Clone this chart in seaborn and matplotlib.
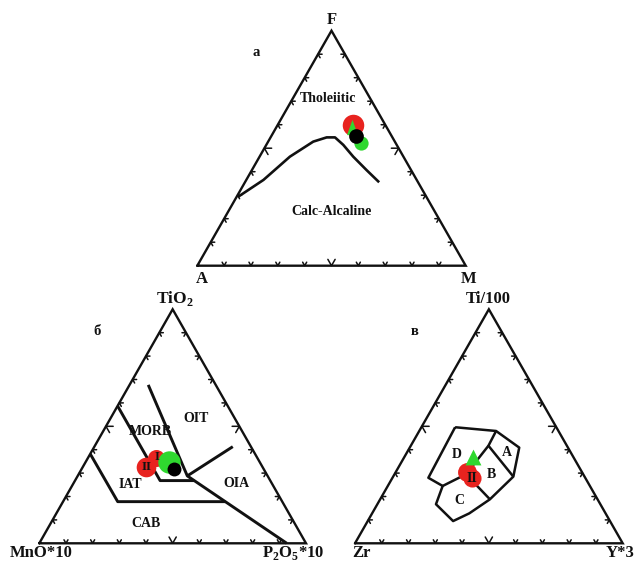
import numpy as np
import matplotlib
matplotlib.use('Agg')
import matplotlib.pyplot as plt
import seaborn as sns

H = np.sqrt(3) / 2

# ---- а: A-F-M diagram (fractions of F and M, A = rest) ----
afm_curve_F = [0.294, 0.365, 0.464, 0.528, 0.546, 0.546, 0.514, 0.464, 0.407, 0.355]
afm_curve_M = [0.006, 0.064, 0.113, 0.168, 0.209, 0.240, 0.287, 0.349, 0.427, 0.500]
afm_red_F, afm_red_M = [0.599], [0.282]
afm_tri_F, afm_tri_M = [0.590], [0.282]
afm_green_F, afm_green_M = [0.521], [0.348]
afm_black_F, afm_black_M = [0.553], [0.314]

# ---- б: TiO2 - MnO*10 - P2O5*10 (fractions of TiO2 and P2O5) ----
mnp_main_T = [0.677, 0.288, 0.0]
mnp_main_P = [0.070, 0.411, 0.928]
mnp_oia_T = [0.288, 0.413]
mnp_oia_P = [0.411, 0.519]
mnp_morb_T = [0.587, 0.268, 0.268]
mnp_morb_P = [0.0, 0.319, 0.447]
mnp_cab_T = [0.382, 0.178, 0.178]
mnp_cab_P = [0.0, 0.205, 0.608]
mnp_red1_T, mnp_red1_P = [0.363], [0.256]
mnp_red2_T, mnp_red2_P = [0.327], [0.236]
mnp_green_T, mnp_green_P = [0.349], [0.313]
mnp_black_T, mnp_black_P = [0.316], [0.347]

# ---- в: Ti/100 - Zr - Y*3 (fractions of Ti and Y) ----
tzy_outer_T = [0.496, 0.480, 0.409, 0.285, 0.188, 0.128, 0.095, 0.167, 0.245, 0.280, 0.496]
tzy_outer_Y = [0.126, 0.287, 0.409, 0.449, 0.410, 0.363, 0.319, 0.219, 0.205, 0.134, 0.126]
tzy_ab_T = [0.480, 0.417, 0.285]
tzy_ab_Y = [0.287, 0.290, 0.449]
tzy_cd_T = [0.245, 0.295, 0.188]
tzy_cd_Y = [0.205, 0.267, 0.410]
tzy_db_T = [0.417, 0.295]
tzy_db_Y = [0.290, 0.267]
tzy_red1_T, tzy_red1_Y = [0.306], [0.2665]
tzy_red2_T, tzy_red2_Y = [0.278], [0.297]
tzy_tri_T, tzy_tri_Y = [0.3675], [0.258]

RED = '#e8231f'
GREEN = '#2fd82f'
INK = '#111111'

sns.set_theme(style="white")
plt.rcParams['font.family'] = ['Liberation Serif', 'DejaVu Serif']
plt.rcParams['font.weight'] = 'bold'
plt.rcParams['mathtext.fontset'] = 'custom'
plt.rcParams['mathtext.rm'] = 'Liberation Serif:bold'
plt.rcParams['mathtext.bf'] = 'Liberation Serif:bold'


def cart(top, right):
    top = np.asarray(top, dtype=float)
    right = np.asarray(right, dtype=float)
    return right + top / 2, top * H


def make_axes(fig, left_px, bottom_px, width_px, height_px):
    W, Hf = 638, 563
    ax = fig.add_axes([left_px / W, (Hf - bottom_px) / Hf, width_px / W, height_px / Hf])
    ax.set_xlim(0, 1)
    ax.set_ylim(0, H)
    ax.axis('off')
    # frame
    ax.plot([0, 1, 0.5, 0], [0, 0, H, 0], color=INK, lw=1.7, clip_on=False,
            solid_joinstyle='miter')
    # chevron ticks pointing inward
    edges = [((0, 0), (1, 0), (np.cos(np.pi / 3), np.sin(np.pi / 3)),
              (np.cos(2 * np.pi / 3), np.sin(2 * np.pi / 3))),
             ((0, 0), (0.5, H), (1, 0), (0.5, -H)),
             ((1, 0), (0.5, H), (-1, 0), (-0.5, -H))]
    for start, end, d1, d2 in edges:
        for k in range(1, 10):
            f = k / 10
            px = start[0] + f * (end[0] - start[0])
            py = start[1] + f * (end[1] - start[1])
            L = 0.027 if k == 5 else 0.015
            ax.plot([px + L * d1[0], px, px + L * d2[0]],
                    [py + L * d1[1], py, py + L * d2[1]],
                    color=INK, lw=1.1, clip_on=False)
    return ax


def line(ax, top, right, lw=2.1):
    x, y = cart(top, right)
    ax.plot(x, y, color=INK, lw=lw, clip_on=False, solid_capstyle='butt')


def points(ax, top, right, color, s, marker='o', z=3):
    x, y = cart(top, right)
    sns.scatterplot(x=x, y=y, ax=ax, color=color, s=s, marker=marker,
                    linewidth=0, zorder=z, clip_on=False, legend=False)


fig = plt.figure(figsize=(6.38, 5.63), dpi=100)
fig.patch.set_facecolor('white')

vfs = 12     # vertex labels
rfs = 10     # region labels

# ---------------- а ----------------
ax = make_axes(fig, 197.3, 265.7, 268.4, 235)
line(ax, afm_curve_F, afm_curve_M, lw=1.9)
tri = [(0, 1), (-0.72, -1), (0.72, -1)]
points(ax, afm_red_F, afm_red_M, RED, 240, z=3)
points(ax, afm_tri_F, afm_tri_M, GREEN, 120, marker=tri, z=4)
points(ax, afm_green_F, afm_green_M, GREEN, 105, z=5)
points(ax, afm_black_F, afm_black_M, 'black', 112, z=6)
ax.text(0.5, 0.891, 'F', ha='center', va='baseline', fontsize=vfs, color=INK)
ax.text(0.016, -0.065, 'A', ha='center', va='baseline', fontsize=vfs, color=INK)
ax.text(1.009, -0.065, 'M', ha='center', va='baseline', fontsize=vfs, color=INK)
ax.text(0.221, 0.784, 'а', ha='center', va='center', fontsize=rfs + 0.5, color=INK)
ax.text(0.487, 0.618, 'Tholeiitic', ha='center', va='center', fontsize=rfs, color=INK)
ax.text(0.501, 0.198, 'Calc-Alcaline', ha='center', va='center', fontsize=rfs, color=INK)

# ---------------- б ----------------
ax = make_axes(fig, 39.3, 543.3, 266.7, 234)
line(ax, mnp_main_T, mnp_main_P)
line(ax, mnp_oia_T, mnp_oia_P)
line(ax, mnp_morb_T, mnp_morb_P)
line(ax, mnp_cab_T, mnp_cab_P)
points(ax, mnp_red2_T, mnp_red2_P, RED, 200, z=3)
points(ax, mnp_red1_T, mnp_red1_P, RED, 150, z=3)
points(ax, mnp_green_T, mnp_green_P, GREEN, 260, z=5)
points(ax, mnp_black_T, mnp_black_P, 'black', 100, z=6)
x1, y1 = cart(mnp_red1_T, mnp_red1_P)
x2, y2 = cart(mnp_red2_T, mnp_red2_P)
ax.text(x1[0] + 0.005, y1[0] + 0.004, 'I', ha='center', va='center', fontsize=9, color=INK, zorder=7)
ax.text(x2[0] + 0.003, y2[0], 'II', ha='center', va='center', fontsize=9.5, color=INK, zorder=7)
ax.text(0.509, 0.888, 'TiO$_2$', ha='center', va='baseline', fontsize=vfs + 0.5, color=INK)
ax.text(0.009, -0.0507, 'MnO*10', ha='center', va='baseline', fontsize=vfs, color=INK)
ax.text(0.951, -0.0507, 'P$_2$O$_5$*10', ha='center', va='baseline', fontsize=vfs, color=INK)
ax.text(0.215, 0.783, 'б', ha='center', va='center', fontsize=rfs + 0.5, color=INK)
ax.text(0.415, 0.413, 'MORB', ha='center', va='center', fontsize=rfs, color=INK)
ax.text(0.588, 0.463, 'OIT', ha='center', va='center', fontsize=rfs, color=INK)
ax.text(0.340, 0.219, 'IAT', ha='center', va='center', fontsize=rfs, color=INK)
ax.text(0.740, 0.222, 'OIA', ha='center', va='center', fontsize=rfs, color=INK)
ax.text(0.399, 0.074, 'CAB', ha='center', va='center', fontsize=rfs, color=INK)

# ---------------- в ----------------
ax = make_axes(fig, 355, 543.3, 267.7, 234)
line(ax, tzy_outer_T, tzy_outer_Y, lw=1.8)
line(ax, tzy_ab_T, tzy_ab_Y, lw=1.8)
line(ax, tzy_cd_T, tzy_cd_Y, lw=1.8)
line(ax, tzy_db_T, tzy_db_Y, lw=1.8)
points(ax, tzy_red1_T, tzy_red1_Y, RED, 185, z=3)
points(ax, tzy_red2_T, tzy_red2_Y, RED, 170, z=4)
points(ax, tzy_tri_T, tzy_tri_Y, GREEN, 130, marker='^', z=5)
xr, yr = cart(tzy_red2_T, tzy_red2_Y)
ax.text(xr[0], yr[0], 'II', ha='center', va='center', fontsize=10, color=INK, zorder=7)
ax.text(0.498, 0.888, 'Ti/100', ha='center', va='baseline', fontsize=vfs, color=INK)
ax.text(0.025, -0.0507, 'Zr', ha='center', va='baseline', fontsize=vfs, color=INK)
ax.text(0.99, -0.0507, 'Y*3', ha='center', va='baseline', fontsize=vfs, color=INK)
ax.text(0.224, 0.783, 'в', ha='center', va='center', fontsize=rfs + 0.5, color=INK)
ax.text(0.380, 0.327, 'D', ha='center', va='center', fontsize=rfs, color=INK)
ax.text(0.567, 0.337, 'A', ha='center', va='center', fontsize=rfs, color=INK)
ax.text(0.511, 0.255, 'B', ha='center', va='center', fontsize=rfs, color=INK)
ax.text(0.390, 0.157, 'C', ha='center', va='center', fontsize=rfs, color=INK)

fig.savefig('out.png', dpi=100, facecolor='white')
